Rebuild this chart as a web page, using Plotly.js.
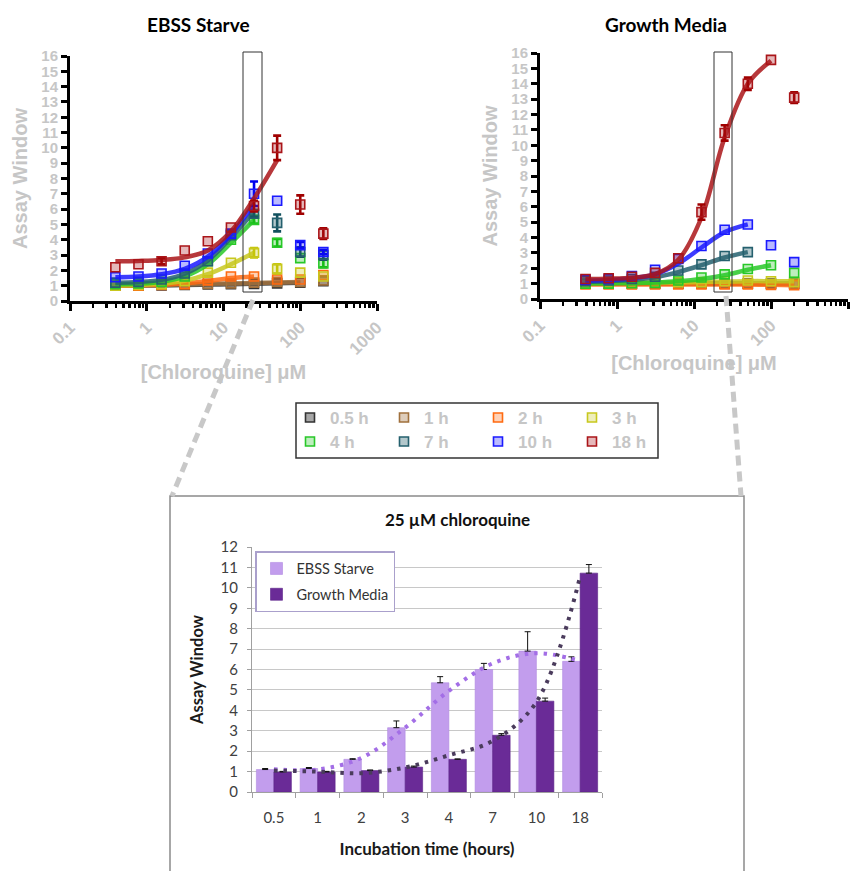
<!DOCTYPE html>
<html><head><meta charset="utf-8">
<script src="https://cdn.plot.ly/plotly-3.0.1.min.js"></script>
<style>html,body{margin:0;padding:0;background:#fff}#chart{width:852px;height:871px}</style>
</head><body><div id="chart"></div>
<script>
const N = NaN;
// ---------- concentration series (µM) ----------
const conc = [0.39, 0.78, 1.56, 3.125, 6.25, 12.5, 25, 50, 100, 200];
const seriesNames = ['0.5 h', '1 h', '2 h', '3 h', '4 h', '7 h', '10 h', '18 h'];
const xTickVals = [0.1, 1, 10, 100, 1000];
const xTickText = ['0.1', '1', '10', '100', '1000'];

// EBSS Starve – measured points
const ebss_05h = [1.0, 1.0, 1.02, 1.05, 1.08, 1.1, 1.12, 1.15, 1.2, 1.3];
const ebss_1h  = [1.05, 1.05, 1.08, 1.1, 1.12, 1.15, 1.2, 1.25, 1.25, 1.35];
const ebss_2h  = [1.0, 1.0, 1.05, 1.1, 1.35, 1.6, 1.6, 1.4, 1.4, 1.7];
const ebss_3h  = [1.0, 1.05, 1.1, 1.3, 1.85, 2.5, 3.15, 2.1, 1.85, 1.6];
const ebss_4h  = [1.1, 1.15, 1.25, 1.6, 2.6, 4.0, 5.3, 3.8, 2.8, 2.45];
const ebss_7h  = [1.2, 1.25, 1.4, 1.8, 2.6, 4.3, 5.7, 5.1, 3.2, 3.0];
const ebss_10h = [1.55, 1.6, 1.8, 2.3, 3.1, 4.4, 7.0, 6.55, 3.65, 3.2];
const ebss_18h = [2.2, 2.4, 2.6, 3.3, 3.9, 4.8, 6.2, 10.0, 6.3, 4.4];
// EBSS Starve – error bars
const ebssErr_3h  = [N, N, N, N, N, N, 0.3, 0.3, N, N];
const ebssErr_4h  = [N, N, N, N, N, N, 0.25, 0.25, N, 0.25];
const ebssErr_7h  = [N, N, N, N, N, N, 0.2, 0.55, 0.3, 0.3];
const ebssErr_10h = [N, N, N, N, N, N, 0.8, N, 0.2, 0.15];
const ebssErr_18h = [N, N, 0.2, N, N, N, 0.35, 0.8, 0.6, 0.35];
// EBSS Starve – fitted curves
const ebssFit_05h = [1.0, 1.0, 1.02, 1.04, 1.07, 1.1, 1.13, 1.16, 1.2, null];
const ebssFit_1h  = [1.05, 1.05, 1.07, 1.09, 1.12, 1.15, 1.18, 1.21, 1.24, null];
const ebssFit_2h  = [1.0, 1.02, 1.06, 1.14, 1.3, 1.5, 1.6, null, null, null];
const ebssFit_3h  = [1.0, 1.04, 1.12, 1.32, 1.75, 2.4, 3.15, null, null, null];
const ebssFit_4h  = [1.1, 1.13, 1.25, 1.6, 2.4, 3.8, 5.3, null, null, null];
const ebssFit_7h  = [1.2, 1.24, 1.38, 1.78, 2.65, 4.15, 5.85, null, null, null];
const ebssFit_10h = [1.55, 1.6, 1.75, 2.1, 2.9, 4.35, 6.35, null, null, null];
const ebssFit_18h = [2.6, 2.62, 2.68, 2.85, 3.3, 4.55, 6.7, 9.2, null, null];

// Growth Media – measured points
const gm_05h = [1.0, 1.0, 1.0, 1.0, 1.0, 1.0, 1.0, 1.0, 1.0, 1.0];
const gm_1h  = [1.0, 1.0, 1.0, 1.0, 1.0, 1.0, 1.0, 1.0, 0.98, 0.98];
const gm_2h  = [0.95, 0.95, 0.95, 0.95, 0.95, 0.95, 0.95, 0.95, 0.92, 0.9];
const gm_3h  = [1.05, 1.05, 1.05, 1.08, 1.1, 1.1, 1.15, 1.2, 1.15, 1.1];
const gm_4h  = [1.0, 1.0, 1.02, 1.05, 1.2, 1.4, 1.6, 1.95, 2.2, 1.7];
const gm_7h  = [1.15, 1.2, 1.3, 1.45, 1.85, 2.25, 2.8, 3.05, null, null];
const gm_10h = [1.25, 1.3, 1.5, 1.9, 2.6, 3.45, 4.5, 4.85, 3.5, 2.4];
const gm_18h = [1.3, 1.35, 1.45, 1.7, 2.65, 5.65, 10.8, 14.0, 15.55, 13.1];
const gmErr_18h = [N, N, N, N, N, 0.5, 0.5, 0.4, N, 0.35];
// Growth Media – fitted curves
const gmFit_05h = [1.0, 1.0, 1.0, 1.0, 1.0, 1.0, 1.0, 1.0, 1.0, 1.0];
const gmFit_1h  = [1.0, 1.0, 1.0, 1.0, 1.0, 1.0, 1.0, 1.0, 0.99, 0.98];
const gmFit_2h  = [0.95, 0.95, 0.95, 0.95, 0.95, 0.95, 0.95, 0.94, 0.92, 0.9];
const gmFit_3h  = [1.05, 1.05, 1.06, 1.07, 1.08, 1.1, 1.13, 1.16, 1.16, 1.15];
const gmFit_4h  = [1.0, 1.01, 1.03, 1.07, 1.15, 1.3, 1.55, 1.9, 2.2, null];
const gmFit_7h  = [1.12, 1.16, 1.25, 1.42, 1.75, 2.2, 2.7, 3.05, null, null];
const gmFit_10h = [1.2, 1.24, 1.35, 1.6, 2.3, 3.35, 4.35, 4.85, null, null];
const gmFit_18h = [1.3, 1.32, 1.38, 1.62, 2.55, 5.3, 10.5, 14.0, 15.5, null];

// ---------- 25 µM chloroquine bar chart ----------
const timeCats = ['0.5', '1', '2', '3', '4', '7', '10', '18'];
const ebssBars  = [1.1, 1.15, 1.6, 3.15, 5.35, 6.0, 6.9, 6.4];
const ebssBarErr = [0.05, 0.05, 0.03, 0.33, 0.3, 0.3, 0.95, 0.22];
const gmBars    = [0.98, 0.98, 1.05, 1.22, 1.6, 2.78, 4.45, 10.72];
const gmBarErr  = [0.03, 0.03, 0.03, 0.05, 0.02, 0.08, 0.15, 0.42];
const ebssTrend = [1.12, 1.1, 1.67, 3.15, 4.95, 6.3, 6.8, 6.42];
const gmTrend   = [1.05, 1.0, 0.92, 1.2, 1.8, 2.5, 4.4, 10.55];

// ---------- styling ----------
const lineColors = ['#333333', '#a0703c', '#ff6a10', '#c8c81e', '#28c828', '#25606e', '#1a1aff', '#aa1519'];
const fillColors = ['rgba(60,60,60,0.45)', 'rgba(160,112,60,0.35)', 'rgba(255,106,16,0.3)', 'rgba(200,200,30,0.3)',
                    'rgba(40,200,40,0.3)', 'rgba(37,96,110,0.35)', 'rgba(26,26,255,0.3)', 'rgba(170,21,25,0.3)'];
const errColors = ['#222', '#8a5a28', '#ee5a00', '#c4c400', '#11bb11', '#11505e', '#0000ee', '#a00000'];

const ebssPts = [ebss_05h, ebss_1h, ebss_2h, ebss_3h, ebss_4h, ebss_7h, ebss_10h, ebss_18h];
const ebssErrs = [null, null, null, ebssErr_3h, ebssErr_4h, ebssErr_7h, ebssErr_10h, ebssErr_18h];
const ebssFits = [ebssFit_05h, ebssFit_1h, ebssFit_2h, ebssFit_3h, ebssFit_4h, ebssFit_7h, ebssFit_10h, ebssFit_18h];
const gmPts = [gm_05h, gm_1h, gm_2h, gm_3h, gm_4h, gm_7h, gm_10h, gm_18h];
const gmErrs = [null, null, null, null, null, null, null, gmErr_18h];
const gmFits = [gmFit_05h, gmFit_1h, gmFit_2h, gmFit_3h, gmFit_4h, gmFit_7h, gmFit_10h, gmFit_18h];

const traces = [];
function addPanel(pts, errs, fits, xa, ya, withLegend) {
  for (let i = 0; i < seriesNames.length; i++) {
    traces.push({
      x: conc, y: fits[i], xaxis: xa, yaxis: ya, type: 'scatter', mode: 'lines',
      line: {color: lineColors[i], width: 4.5, shape: 'spline', smoothing: 1},
      opacity: 0.85, showlegend: false, hoverinfo: 'skip'
    });
    const t = {
      x: conc, y: pts[i], xaxis: xa, yaxis: ya, type: 'scatter', mode: 'markers',
      name: seriesNames[i],
      marker: {symbol: 'square', size: 9, color: fillColors[i], line: {color: lineColors[i], width: 1.6}},
      showlegend: withLegend, legend: i < 4 ? 'legend' : 'legend2'
    };
    if (errs[i]) t.error_y = {type: 'data', array: errs[i], visible: true, color: errColors[i], thickness: 2.6, width: 4};
    traces.push(t);
  }
}
addPanel(ebssPts, ebssErrs, ebssFits, 'x', 'y', true);
addPanel(gmPts, gmErrs, gmFits, 'x2', 'y2', false);

traces.push({
  x: timeCats, y: ebssBars, type: 'bar', name: 'EBSS Starve', xaxis: 'x3', yaxis: 'y3',
  marker: {color: '#c29ded', line: {color: '#b08ae0', width: 0.6}},
  error_y: {type: 'data', symmetric: false, array: ebssBarErr, arrayminus: [0,0,0,0,0,0,0,0], color: '#111', thickness: 1, width: 3},
  legend: 'legend3', legendgroup: 'a'
});
traces.push({
  x: timeCats, y: gmBars, type: 'bar', name: 'Growth Media', xaxis: 'x3', yaxis: 'y3',
  marker: {color: '#6a2b97', line: {color: '#5a2288', width: 0.6}},
  error_y: {type: 'data', symmetric: false, array: gmBarErr, arrayminus: [0,0,0,0,0,0,0,0], color: '#111', thickness: 1, width: 3},
  legend: 'legend3', legendgroup: 'b'
});
traces.push({
  x: timeCats, y: ebssTrend, type: 'scatter', mode: 'lines', xaxis: 'x3', yaxis: 'y3',
  line: {color: '#a36ee6', width: 4, dash: '3.5px,6px', shape: 'spline'}, showlegend: false, hoverinfo: 'skip'
});
traces.push({
  x: timeCats, y: gmTrend, type: 'scatter', mode: 'lines', xaxis: 'x3', yaxis: 'y3',
  line: {color: '#4a3b5c', width: 4, dash: '3.5px,6px', shape: 'spline'}, showlegend: false, hoverinfo: 'skip'
});

const px = v => v / 852;
const py = v => 1 - v / 871;
const grayFont = {family: 'Liberation Sans, Arial, sans-serif', size: 17, color: '#c6c6c6', weight: 'bold'};
const grayTick = Object.assign({}, grayFont, {size: 15});
const calFont = {family: 'Lato, sans-serif', size: 15, color: '#404040'};

function topX(domain) {
  return {
    domain: domain, type: 'log', range: [-1, 3], showline: true, linecolor: '#000', linewidth: 3,
    ticks: 'outside', tickcolor: '#000', tickwidth: 3, ticklen: 7, tickmode: 'array',
    tickvals: xTickVals, ticktext: xTickText, tickangle: -45, tickfont: grayFont,
    showgrid: false, zeroline: false,
    minor: {ticks: 'outside', ticklen: 4, tickwidth: 2.5, tickcolor: '#000', dtick: 'D1', showgrid: false},
    title: {text: '[Chloroquine] μM', font: Object.assign({}, grayFont, {size: 20}), standoff: 8}
  };
}
function topY(domain, anchor) {
  return {
    domain: domain, anchor: anchor, range: [0, 16], dtick: 1, showline: true, linecolor: '#000', linewidth: 3,
    ticks: 'outside', tickcolor: '#000', tickwidth: 3, ticklen: 6, tickfont: grayTick,
    showgrid: false, zeroline: false,
    title: {text: 'Assay Window', font: Object.assign({}, grayFont, {size: 20}), standoff: 9}
  };
}

const legendCommon = {
  orientation: 'h', xanchor: 'left', yanchor: 'top', bgcolor: 'rgba(0,0,0,0)', borderwidth: 0,
  font: grayFont, entrywidth: 49, entrywidthmode: 'pixels', itemclick: false
};

const layout = {
  width: 852, height: 871, margin: {l: 0, r: 0, t: 0, b: 0}, autosize: false,
  paper_bgcolor: '#fff', plot_bgcolor: 'rgba(0,0,0,0)',
  barmode: 'group', bargap: 0.2, bargroupgap: 0,
  xaxis: Object.assign(topX([px(70), px(377)]), {anchor: 'y'}),
  yaxis: topY([py(301), py(56)], 'x'),
  xaxis2: Object.assign(topX([px(540), px(848)]), {anchor: 'y2'}),
  yaxis2: topY([py(299), py(53)], 'x2'),
  xaxis3: {
    domain: [px(252), px(602)], anchor: 'y3', type: 'category', range: [-0.5, 7.5],
    tickson: 'boundaries', ticks: 'outside', ticklen: 5, tickcolor: '#a0a0a0', ticklabelstandoff: 12,
    showline: true, linecolor: '#a0a0a0', linewidth: 1, tickfont: calFont, showgrid: false,
    title: {text: 'Incubation time (hours)', font: {family: 'Lato, sans-serif', size: 17, color: '#1a1a1a', weight: 'bold'}, standoff: 18}
  },
  yaxis3: {
    domain: [py(792), py(547)], anchor: 'x3', range: [0, 12], dtick: 1, showgrid: true,
    gridcolor: '#c8c8c8', gridwidth: 1, ticks: 'outside', ticklen: 4, tickcolor: '#a0a0a0', ticklabelstandoff: 6,
    showline: true, linecolor: '#a0a0a0', linewidth: 1, zeroline: false, tickfont: calFont,
    title: {text: 'Assay Window', font: {family: 'Lato, sans-serif', size: 16.5, color: '#1a1a1a', weight: 'bold'}, standoff: 12}
  },
  legend: Object.assign({}, legendCommon, {x: px(290), y: py(400)}),
  legend2: Object.assign({}, legendCommon, {x: px(290), y: py(424)}),
  legend3: {
    x: px(255), y: py(551), xanchor: 'left', yanchor: 'top', orientation: 'v',
    bgcolor: '#fff', bordercolor: '#aaa0cc', borderwidth: 1.5,
    font: {family: 'Lato, sans-serif', size: 14.5, color: '#333'},
    traceorder: 'grouped', tracegroupgap: 4, itemclick: false
  },
  annotations: [
    {text: 'EBSS Starve', x: px(198), y: py(25), xref: 'paper', yref: 'paper', xanchor: 'center', yanchor: 'middle', showarrow: false,
     font: {family: 'Lato, sans-serif', size: 19, color: '#000', weight: 'bold'}},
    {text: 'Growth Media', x: px(666), y: py(24), xref: 'paper', yref: 'paper', xanchor: 'center', yanchor: 'middle', showarrow: false,
     font: {family: 'Lato, sans-serif', size: 19, color: '#000', weight: 'bold'}},
    {text: '25 µM chloroquine', x: px(457), y: py(519), xref: 'paper', yref: 'paper', xanchor: 'center', yanchor: 'middle', showarrow: false,
     font: {family: 'Lato, sans-serif', size: 17, color: '#111', weight: 'bold'}}
  ],
  shapes: [
    {type: 'rect', xref: 'paper', yref: 'paper', x0: px(243), x1: px(262), y0: py(292), y1: py(52), line: {color: '#333', width: 1}},
    {type: 'rect', xref: 'paper', yref: 'paper', x0: px(714), x1: px(732), y0: py(292), y1: py(52), line: {color: '#333', width: 1}},
    {type: 'rect', xref: 'paper', yref: 'paper', x0: px(296), x1: px(658), y0: py(458), y1: py(403), line: {color: '#333', width: 1.5}},
    {type: 'rect', xref: 'paper', yref: 'paper', x0: px(170), x1: px(744), y0: py(900), y1: py(496), line: {color: '#8a8a8a', width: 1.5}},
    {type: 'line', xref: 'paper', yref: 'paper', x0: px(253), y0: py(300), x1: px(172), y1: py(496), line: {color: '#c8c8c8', width: 5, dash: '10px,6px'}},
    {type: 'line', xref: 'paper', yref: 'paper', x0: px(726), y0: py(296), x1: px(741), y1: py(496), line: {color: '#c8c8c8', width: 5, dash: '10px,6px'}}
  ]
};

Plotly.newPlot('chart', traces, layout, {staticPlot: true, displayModeBar: false});
</script>
</body></html>
